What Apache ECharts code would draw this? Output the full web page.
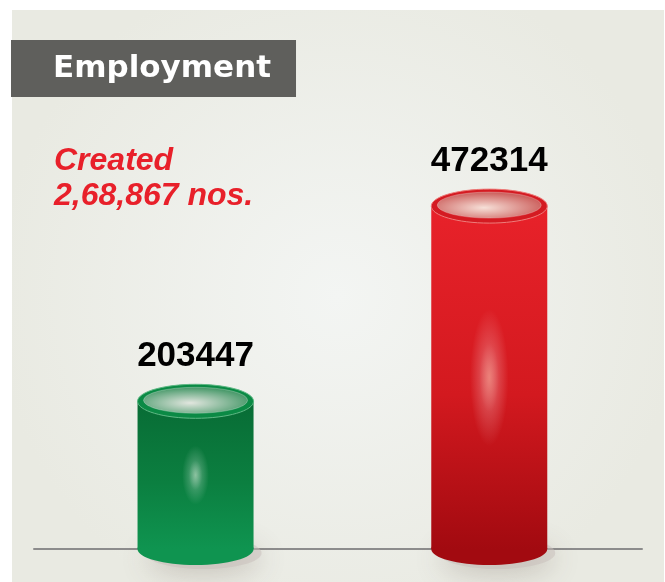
<!DOCTYPE html>
<html>
<head>
<meta charset="utf-8">
<script src="https://cdn.jsdelivr.net/npm/echarts@6/dist/echarts.min.js"></script>
<style>
  html, body { margin: 0; padding: 0; background: #ffffff; }
  #main { width: 665px; height: 582px; }
</style>
</head>
<body>
<div id="main"></div>
<script>
// data
var categories = ['Earlier', 'Now'];
var values = [203447, 472314];
var titleText = 'Employment';
var noteText = 'Created\n2,68,867 nos.';

// colours for each cylinder
var palettes = [
    { top: '#086c35', mid: '#0b7f40', bottom: '#0f9450', rim: '#0b8a45', rimLine: '#5fb985', inLight: '#e2e6df', inDark: '#2a8a53', glow: 'rgba(225,240,225,0.6)' },
    { top: '#e8222a', mid: '#d3191f', bottom: '#a20a10', rim: '#d41b22', rimLine: '#ee7d7b', inLight: '#f6e0d8', inDark: '#c44644', glow: 'rgba(255,215,195,0.55)' }
];

var chartDom = document.getElementById('main');
var myChart = echarts.init(chartDom);
var option;

function renderCylinder(params, api) {
    var p = palettes[params.dataIndex];
    var top = api.coord([api.value(0), api.value(1)]);
    var base = api.coord([api.value(0), 0]);
    var cx = top[0];
    var rx = 58, ry = 16;
    var h = base[1] - top[1];
    var glowR = 9 + h * 0.03, glowRy = h * 0.2;
    var inR = rx - 6, inRy = ry - 3;
    return {
        type: 'group',
        children: [
            {
                type: 'ellipse',
                shape: { cx: cx + 8, cy: base[1] + 4, rx: rx, ry: ry },
                style: { fill: 'rgba(200,190,185,0.5)', shadowBlur: 28, shadowOffsetY: 6, shadowColor: 'rgba(110,90,80,0.55)' }
            },
            {
                type: 'ellipse',
                shape: { cx: cx, cy: base[1], rx: rx, ry: ry },
                style: { fill: p.bottom }
            },
            {
                type: 'rect',
                shape: { x: cx - rx, y: top[1], width: rx * 2, height: h },
                style: {
                    fill: new echarts.graphic.LinearGradient(0, 0, 0, 1, [
                        { offset: 0, color: p.top },
                        { offset: 0.55, color: p.mid },
                        { offset: 1, color: p.bottom }
                    ])
                }
            },
            {
                // soft vertical shine in the middle of the body
                type: 'circle',
                x: cx, y: top[1] + h * 0.5,
                scaleY: glowRy / glowR,
                shape: { cx: 0, cy: 0, r: glowR },
                style: {
                    fill: new echarts.graphic.RadialGradient(0.5, 0.5, 0.5, [
                        { offset: 0, color: p.glow },
                        { offset: 0.5, color: 'rgba(255,255,255,0.18)' },
                        { offset: 1, color: 'rgba(255,255,255,0)' }
                    ])
                }
            },
            {
                type: 'ellipse',
                shape: { cx: cx, cy: top[1], rx: rx, ry: ry + 1 },
                style: { fill: p.rim, stroke: p.rimLine, lineWidth: 1 }
            },
            {
                type: 'circle',
                x: cx, y: top[1] - 1,
                scaleY: inRy / inR,
                shape: { cx: 0, cy: 0, r: inR },
                style: {
                    fill: new echarts.graphic.RadialGradient(0.45, 0.6, 0.7, [
                        { offset: 0, color: p.inLight },
                        { offset: 1, color: p.inDark }
                    ]),
                    stroke: 'rgba(255,255,255,0.4)', lineWidth: 1, strokeNoScale: true
                }
            },
            {
                type: 'text',
                style: {
                    x: cx, y: top[1] - 45,
                    text: String(api.value(1)),
                    align: 'center', verticalAlign: 'middle',
                    fill: '#000000',
                    font: 'bold 35px "Liberation Sans", Arial, sans-serif'
                }
            }
        ]
    };
}

option = {
    animation: false,
    backgroundColor: '#ffffff',
    graphic: [
        {
            type: 'rect',
            z: -10,
            shape: { x: 12, y: 10, width: 652, height: 572 },
            style: {
                fill: new echarts.graphic.RadialGradient(0.5, 0.5, 0.6, [
                    { offset: 0, color: '#f3f5f3' },
                    { offset: 1, color: '#e9eae2' }
                ])
            }
        }
    ],
    title: [
        {
            text: titleText,
            left: 11,
            top: 40,
            backgroundColor: '#5f5f5c',
            padding: [12, 25, 12, 42],
            textStyle: {
                color: '#ffffff',
                fontSize: 31,
                lineHeight: 33,
                fontWeight: 'bold',
                fontFamily: '"DejaVu Sans", sans-serif'
            }
        },
        {
            text: noteText,
            left: 54,
            top: 144,
            padding: 0,
            textStyle: {
                color: '#e8202a',
                fontSize: 32,
                lineHeight: 35,
                fontStyle: 'italic',
                fontWeight: 'bold',
                fontFamily: '"Liberation Sans", Arial, sans-serif'
            }
        }
    ],
    grid: { left: 34, right: 23, top: 186, bottom: 33 },
    xAxis: {
        type: 'value',
        min: -0.55,
        max: 1.52,
        axisLine: { show: true, onZero: false, lineStyle: { color: '#8c8c8c', width: 2 } },
        axisTick: { show: false },
        axisLabel: { show: false },
        splitLine: { show: false }
    },
    yAxis: {
        type: 'value',
        min: 0,
        max: 500000,
        show: false
    },
    series: [
        {
            type: 'custom',
            renderItem: renderCylinder,
            data: categories.map(function (c, i) { return [i, values[i], c]; }),
            z: 5
        }
    ]
};

option && myChart.setOption(option);
</script>
</body>
</html>
